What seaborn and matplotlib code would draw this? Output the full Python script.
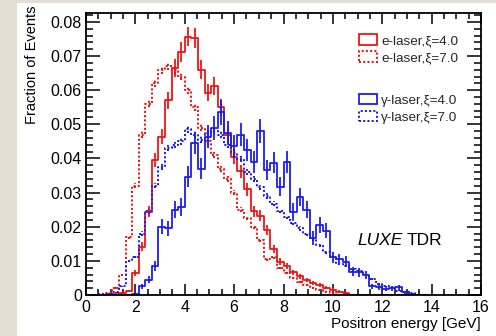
import numpy as np
import pandas as pd
import matplotlib
matplotlib.use('Agg')
import matplotlib.pyplot as plt
import seaborn as sns
from matplotlib.patches import Patch, Rectangle
from matplotlib.ticker import MultipleLocator, FuncFormatter

# ---------------- data (fraction of events per 16/60 GeV bin, bins 0..51) -------------
bin_width = 16 / 60
n_bins = 52

e_laser_xi4 = [0, 0, 0, 0, 0.0003, 0.0006, 0.0012, 0.0064, 0.0142, 0.0244,
               0.0396, 0.0464, 0.0570, 0.0665, 0.0712, 0.0757, 0.0752, 0.0660, 0.0593, 0.0613,
               0.0550, 0.0470, 0.0405, 0.0362, 0.0310, 0.0245, 0.0232, 0.0190, 0.0135, 0.0098,
               0.0085, 0.0066, 0.0055, 0.0044, 0.0036, 0.0029, 0.0021, 0.0015, 0.0010, 0.0005,
               0, 0, 0, 0, 0, 0, 0, 0, 0, 0, 0, 0]

e_laser_xi7 = [0, 0, 0, 0.0005, 0.0020, 0.0060, 0.0170, 0.0320, 0.0470, 0.0560,
               0.0620, 0.0660, 0.0670, 0.0660, 0.0640, 0.0600, 0.0550, 0.0490, 0.0450, 0.0410,
               0.0370, 0.0340, 0.0300, 0.0250, 0.0225, 0.0200, 0.0160, 0.0105, 0.0110, 0.0080,
               0.0065, 0.0050, 0.0038, 0.0030, 0.0020, 0.0015, 0.0010, 0.0005, 0, 0,
               0, 0, 0, 0, 0, 0, 0, 0, 0, 0, 0, 0]

g_laser_xi4 = [0, 0, 0, 0, 0, 0, 0, 0.0004, 0.0025, 0.0045,
               0.0085, 0.0200, 0.0196, 0.0250, 0.0258, 0.0347, 0.0445, 0.0370, 0.0464, 0.0490,
               0.0535, 0.0475, 0.0435, 0.0470, 0.0425, 0.0390, 0.0480, 0.0366, 0.0387, 0.0317,
               0.0390, 0.0244, 0.0288, 0.0250, 0.0167, 0.0205, 0.0188, 0.0110, 0.0105, 0.0098,
               0.0068, 0.0066, 0.0058, 0.0025, 0.0022, 0.0018, 0.0020, 0.0022, 0.0008, 0.0004,
               0, 0]

g_laser_xi7 = [0, 0, 0.0002, 0.0003, 0.0008, 0.0025, 0.0100, 0.0112, 0.0180, 0.0245,
               0.0320, 0.0375, 0.0430, 0.0440, 0.0450, 0.0485, 0.0470, 0.0455, 0.0475, 0.0480,
               0.0470, 0.0440, 0.0415, 0.0398, 0.0360, 0.0340, 0.0315, 0.0290, 0.0268, 0.0246,
               0.0228, 0.0212, 0.0195, 0.0178, 0.0165, 0.0145, 0.0125, 0.0112, 0.0092, 0.0085,
               0.0075, 0.0070, 0.0058, 0.0048, 0.0032, 0.0025, 0.0022, 0.0012, 0.0010, 0.0006,
               0.0003, 0]

# effective number of simulated events per sample (sets statistical error bars)
n_events = [9000, 50000, 4000, 50000]
labels = ['e-laser,ξ=4.0', 'e-laser,ξ=7.0', 'γ-laser,ξ=4.0', 'γ-laser,ξ=7.0']

x_ticks = [0, 2, 4, 6, 8, 10, 12, 14, 16]
y_ticks = [0, 0.01, 0.02, 0.03, 0.04, 0.05, 0.06, 0.07, 0.08]

# ---------------- style ----------------
RED = '#f01414'
BLUE = '#1c1cee'
DOT = (0, (1.0, 1.1))
LW = 1.3
LW_DOT = 1.45

sns.set_theme(style='ticks')
plt.rcParams['font.family'] = ['Liberation Sans', 'DejaVu Sans']

fig = plt.figure(figsize=(4.96, 3.36), dpi=100, facecolor='#e4ddd2')
fig.patches.append(Rectangle((17 / 496, 0), 1, 1 - 3 / 336, transform=fig.transFigure,
                             facecolor='white', edgecolor='none', zorder=-5))
ax = fig.add_axes([86 / 496, 41 / 336, 395 / 496, 282 / 336])
ax.set_facecolor('white')
ax.set_zorder(2)

edges = [i * bin_width for i in range(n_bins + 1)]
centers = np.array([e + bin_width / 2 for e in edges[:-1]])

series = [
    (e_laser_xi4, RED, '-', n_events[0]),
    (e_laser_xi7, RED, DOT, n_events[1]),
    (g_laser_xi4, BLUE, '-', n_events[2]),
    (g_laser_xi7, BLUE, DOT, n_events[3]),
]

for vals, color, ls, n in series:
    v = np.asarray(vals, dtype=float)
    lw = LW if ls == '-' else LW_DOT
    df = pd.DataFrame({'E': centers, 'w': v})
    sns.histplot(data=df, x='E', weights='w', bins=edges, element='step', fill=False,
                 color=color, linewidth=lw, linestyle=ls, ax=ax)
    m = v > 0
    err = np.sqrt(v[m] / n)
    eb = ax.errorbar(centers[m], v[m], yerr=err, fmt='none', ecolor=color,
                     elinewidth=lw, capsize=0)
    if ls != '-':
        eb[2][0].set_linestyle(ls)

ax.set_xlim(0, 16)
ax.set_ylim(0, 0.0826)
ax.set_xticks(x_ticks)
ax.set_yticks(y_ticks)
ax.xaxis.set_minor_locator(MultipleLocator(0.5))
ax.yaxis.set_minor_locator(MultipleLocator(0.002))
ax.yaxis.set_major_formatter(FuncFormatter(lambda v, p: '0' if abs(v) < 1e-9 else f'{v:.2f}'))
ax.xaxis.set_major_formatter(FuncFormatter(lambda v, p: f'{v:.0f}'))

ax.tick_params(which='both', direction='in', top=True, right=True, width=1.1,
               color='black', labelsize=11.5, labelcolor='black')
ax.tick_params(axis='x', which='major', length=8, pad=3.5)
ax.tick_params(axis='x', which='minor', length=4)
ax.tick_params(axis='y', which='major', length=10, pad=3)
ax.tick_params(axis='y', which='minor', length=5)
for s in ax.spines.values():
    s.set_color('black')
    s.set_linewidth(1.3)
    s.set_visible(True)

ax.set_ylabel('Fraction of Events', fontsize=10.5, loc='top', color='black')
ax.yaxis.set_label_coords(-0.118, 1.028)
ax.set_xlabel('Positron energy [GeV]', fontsize=11, loc='right', color='black')
ax.xaxis.set_label_coords(1.0, -0.079)

def handle(color, ls):
    return Patch(facecolor='none', edgecolor=color, linestyle=ls,
                 linewidth=LW if ls == '-' else LW_DOT)

leg_kw = dict(loc='upper left', frameon=False, fontsize=9.7, handlelength=1.35,
              handleheight=0.82, handletextpad=0.3, labelspacing=0.32,
              borderpad=0, borderaxespad=0)
leg1 = ax.legend(handles=[handle(RED, '-'), handle(RED, DOT)], labels=labels[:2],
                 bbox_to_anchor=(0.691, 0.925), **leg_kw)
ax.add_artist(leg1)
ax.legend(handles=[handle(BLUE, '-'), handle(BLUE, DOT)], labels=labels[2:],
          bbox_to_anchor=(0.691, 0.714), **leg_kw)

t1 = ax.text(0.686, 0.195, 'LUXE', transform=ax.transAxes, fontsize=12.5,
             style='italic', va='center', ha='left', color='black')
ax.annotate('TDR', xy=(1, 0.5), xycoords=t1, xytext=(3, 0), textcoords='offset points',
            fontsize=12.5, va='center', ha='left', color='black')

fig.savefig('out.png', dpi=100, facecolor=fig.get_facecolor())
